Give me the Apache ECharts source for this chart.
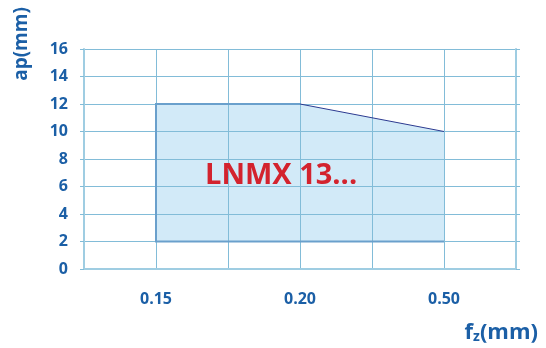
<!DOCTYPE html>
<html>
<head>
<meta charset="utf-8">
<script src="https://cdn.jsdelivr.net/npm/echarts@6/dist/echarts.min.js"></script>
<style>
  html, body { margin: 0; padding: 0; background: #fff; }
  #chart { width: 546px; height: 348px; }
</style>
</head>
<body>
<div id="chart"></div>
<script>
// Feed rate positions on the x scale and their labels
var fzPositions = [1, 3, 5];
var fzLabels = ['0.15', '0.20', '0.50'];
// Depth of cut window (mm) at each feed position
var apMax = [12, 12, 10];
var apMin = [2, 2, 2];
var gradeName = 'LNMX 13...';

var BLUE_TXT = '#1b5fa6';
var GRID = '#82bcd8';
var EDGE = '#6aa0cc';
var FONT = '"Open Sans", "DejaVu Sans", sans-serif';

var chart = echarts.init(document.getElementById('chart'));

// polygon outline: upper boundary left to right, lower boundary right to left
var poly = [];
for (var i = 0; i < fzPositions.length; i++) poly.push([fzPositions[i], apMax[i]]);
for (var j = fzPositions.length - 1; j >= 0; j--) poly.push([fzPositions[j], apMin[j]]);

chart.setOption({
  animation: false,
  grid: { left: 84, right: 30, top: 49, bottom: 79 },
  xAxis: {
    type: 'value', min: 0, max: 6, interval: 1,
    axisLine: { show: true, lineStyle: { color: '#9fcde2', width: 2 } },
    axisTick: { show: false },
    splitLine: { show: true, lineStyle: { color: GRID, width: 1 } },
    axisLabel: {
      margin: 22, color: BLUE_TXT, fontFamily: FONT, fontWeight: 'bold', fontSize: 16,
      formatter: function (v) {
        var k = fzPositions.indexOf(v);
        return k >= 0 ? fzLabels[k] : '';
      }
    }
  },
  yAxis: [{
    type: 'value', min: 0, max: 16, interval: 2,
    axisLine: { show: true, lineStyle: { color: '#9fcde2', width: 2 } },
    axisTick: { show: true, length: 4, lineStyle: { color: GRID } },
    splitLine: { show: true, lineStyle: { color: GRID, width: 1 } },
    axisLabel: { margin: 16, color: BLUE_TXT, fontFamily: FONT, fontWeight: 'bold', fontSize: 16 }
  }, {
    type: 'value', min: 0, max: 16, interval: 2, position: 'right',
    axisLine: { show: true, lineStyle: { color: '#9fcde2', width: 2 } },
    axisTick: { show: true, length: 4, lineStyle: { color: GRID } },
    splitLine: { show: false },
    axisLabel: { show: false }
  }],
  series: [{
    // shaded operating window, kept beneath the grid lines
    type: 'custom',
    data: [0],
    z: -1,
    renderItem: function (params, api) {
      return {
        type: 'polygon',
        shape: { points: poly.map(function (p) { return api.coord(p); }) },
        style: { fill: '#d2eaf8', stroke: null }
      };
    }
  }, {
    // left, bottom and flat top edges of the window
    type: 'custom',
    data: [0],
    z: 3,
    renderItem: function (params, api) {
      var n = fzPositions.length;
      return {
        type: 'polyline',
        shape: { points: [api.coord([fzPositions[1], apMax[1]]), api.coord([fzPositions[0], apMax[0]]),
                          api.coord([fzPositions[0], apMin[0]]), api.coord([fzPositions[n - 1], apMin[n - 1]])] },
        style: { fill: null, stroke: EDGE, lineWidth: 2 }
      };
    }
  }, {
    type: 'line',
    z: 4,
    symbol: 'none',
    data: [[fzPositions[1], apMax[1]], [fzPositions[2], apMax[2]]],
    lineStyle: { color: '#2c3a90', width: 1 }
  }],
  graphic: [{
    type: 'text', left: 205, top: 161, z: 10,
    style: { text: gradeName, fill: '#d3232e', font: 'bold 29px ' + FONT }
  }, {
    type: 'text', x: 12, y: 44, rotation: Math.PI / 2,
    style: { text: 'ap(mm)', fill: BLUE_TXT, font: 'bold 19px ' + FONT, textAlign: 'center', textVerticalAlign: 'top' }
  }, {
    type: 'text', right: 8, top: 322,
    style: {
      text: '{b|f}{s|z}{b|(mm)}',
      rich: {
        b: { fill: BLUE_TXT, font: 'bold 22px ' + FONT },
        s: { fill: BLUE_TXT, font: 'bold 14px ' + FONT, padding: [9, 0, 0, 0] }
      }
    }
  }]
});
</script>
</body>
</html>
